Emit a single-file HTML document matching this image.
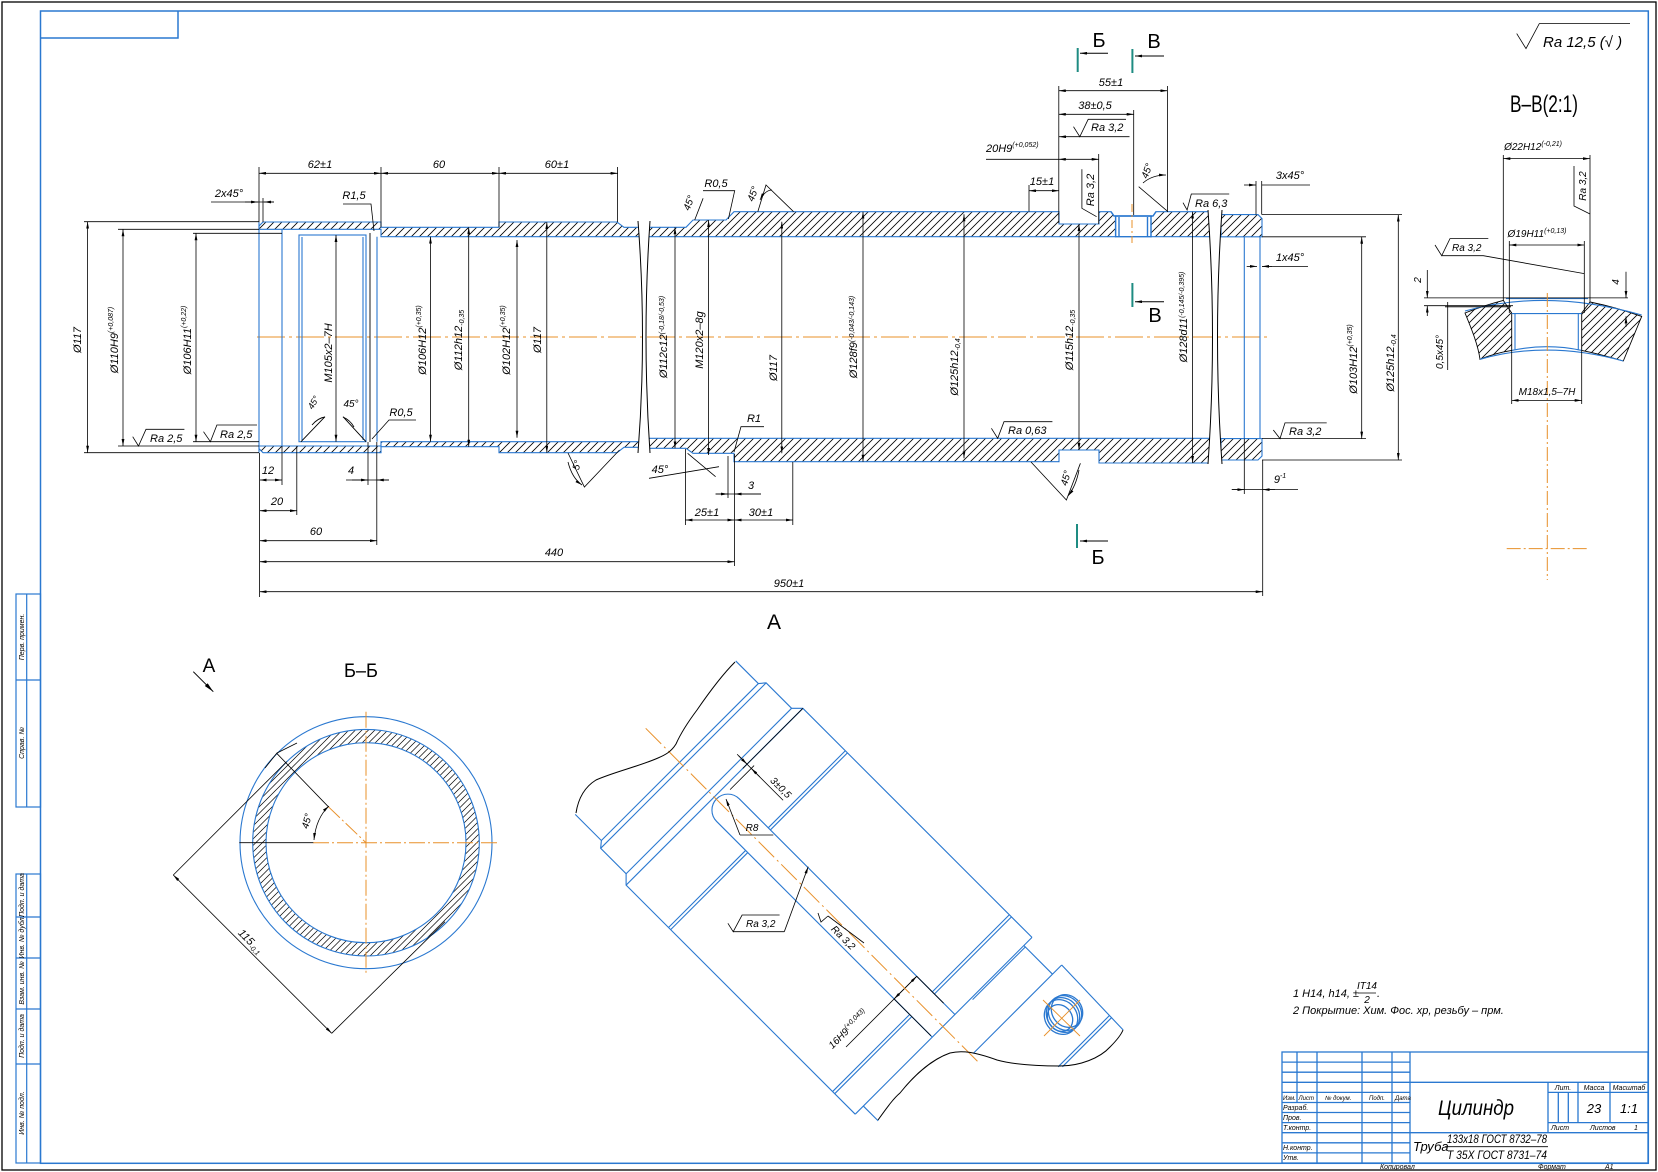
<!DOCTYPE html>
<html><head><meta charset="utf-8"><style>
html,body{margin:0;padding:0;background:#fff;}
svg{display:block}
text{font-family:"Liberation Sans","DejaVu Sans",sans-serif;font-style:italic;fill:#000;font-size:11px}
.u{font-style:normal}
</style></head><body>
<svg width="1658" height="1172" viewBox="0 0 1658 1172" xmlns="http://www.w3.org/2000/svg">
<defs>
<marker id="a" viewBox="0 0 10 4" refX="10" refY="2" markerWidth="7" markerHeight="2.8" markerUnits="userSpaceOnUse" orient="auto-start-reverse"><path d="M0,0L10,2L0,4z" fill="#000"/></marker>
<marker id="b" viewBox="0 0 10 4" refX="10" refY="2" markerWidth="11" markerHeight="4" markerUnits="userSpaceOnUse" orient="auto-start-reverse"><path d="M0,0L10,2L0,4z" fill="#000"/></marker>
<pattern id="h" width="8" height="8" patternUnits="userSpaceOnUse"><path d="M-1,1L1,-1M0,8L8,0M7,9L9,7" stroke="#000" stroke-width="0.8"/></pattern>
<pattern id="h2" width="6.5" height="6.5" patternUnits="userSpaceOnUse"><path d="M-1,1L1,-1M0,6.5L6.5,0M5.5,7.5L7.5,5.5" stroke="#000" stroke-width="0.7"/></pattern>
</defs>

<!-- FRAME -->
<rect x="2" y="2" width="1654" height="1168" fill="none" stroke="#000" stroke-width="1.3"/>
<rect x="40.5" y="11" width="1607.8" height="1152.3" fill="none" stroke="#2a78d0" stroke-width="1.5"/>
<path d="M40.5,38H178V11" stroke="#2a78d0" fill="none" stroke-width="1.5"/>

<!-- left stamp column -->
<g fill="none" stroke="#2a78d0" stroke-width="1.2">
<rect x="16" y="594" width="24.5" height="213"/>
<path d="M16,680H40.5 M26.7,594V807"/>
<rect x="16" y="874" width="24.5" height="289"/>
<path d="M16,917H40.5 M16,958H40.5 M16,1009H40.5 M16,1064H40.5 M26.7,874V1163"/>
</g>
<g>
<text transform="translate(24,637) rotate(-90)" text-anchor="middle" style="font-size:7px">Перв. примен.</text>
<text transform="translate(24,743) rotate(-90)" text-anchor="middle" style="font-size:7px">Справ. №</text>
<text transform="translate(24,895) rotate(-90)" text-anchor="middle" style="font-size:7px">Подп. и дата</text>
<text transform="translate(24,937) rotate(-90)" text-anchor="middle" style="font-size:7px">Инв. № дубл.</text>
<text transform="translate(24,983) rotate(-90)" text-anchor="middle" style="font-size:7px">Взам. инв. №</text>
<text transform="translate(24,1036) rotate(-90)" text-anchor="middle" style="font-size:7px">Подп. и дата</text>
<text transform="translate(24,1113) rotate(-90)" text-anchor="middle" style="font-size:7px">Инв. № подл.</text>
</g>

<!-- ===== MAIN VIEW ===== -->
<line x1="257" y1="337" x2="1267" y2="337" stroke="#e8902a" stroke-width="1" stroke-dasharray="28,4,3,4"/>

<g fill="url(#h)" stroke="#2a78d0" stroke-width="1.1">
<polygon points="259,226 263,222 381,222 381,227.3 499,227.3 499,222 617,222 624,227.3 640,227.3 640,236.7 381,236.7 381,229.3 259,229.3"/>
<polygon points="259,448.7 263,452.7 381,452.7 381,446.7 499,446.7 499,452.7 617,452.7 624,447.3 640,447.3 640,441.7 381,441.7 381,446 259,446"/>
<polygon points="648,227.3 686,227.3 693,220 726,220 734,211.7 1059,211.7 1059,224 1099,224 1099,211.7 1111,211.7 1114,216 1115.6,216 1115.6,236.7 648,236.7"/>
<polygon points="1151,216 1153,216 1156,211.7 1210,211.7 1210,236.7 1151,236.7"/>
<polygon points="648,438.3 1210,438.3 1210,463 1099,463 1099,450 1059,450 1059,461.7 734,461.7 734,453.3 693,453.3 686,448.3 648,448.3"/>
<polygon points="1221,214.6 1258,214.6 1262,218.6 1262,236.8 1221,236.8"/>
<polygon points="1221,438.6 1262,438.6 1262,456 1258,460 1221,460"/>
</g>
<!-- break curves -->
<g fill="#fff" stroke="none">
<path d="M638,221 Q647,337 638,453 L650,453 Q642,337 650,221 Z"/>
<path d="M1208,210 Q1217,337 1208,464 L1222,464 Q1213,337 1222,210 Z"/>
</g>
<g fill="none" stroke="#000" stroke-width="1">
<path d="M638,221 Q647,337 638,453 M650,221 Q642,337 650,453"/>
<path d="M1208,210 Q1217,337 1208,464 M1222,210 Q1213,337 1222,464"/>
</g>
<!-- interior lines -->
<g fill="none" stroke="#2a78d0" stroke-width="1.1">
<path d="M259,222V452.7 M282,229.3V446 M377,236.7V441.7 M1244.3,236.8V438.6 M1260,236.8V438.6"/>
<rect x="299" y="235" width="67" height="206.7"/>
<path d="M302,237V440 M363,237V440"/>
</g>
<!-- radial hole -->
<g fill="none" stroke="#2a78d0" stroke-width="1.4">
<path d="M1111,211.7L1114,216H1153L1156,211.7"/>
<rect x="1115.6" y="216" width="35.4" height="20.7"/>
<path d="M1119,217V236.7 M1147.5,217V236.7"/>
</g>
<g fill="none" stroke="#000" stroke-width="0.9">
<path d="M370,233V442 M301,441.7L325,416.7 M366,441.7L343,416.7"/>
<path d="M312,425 Q318,418 325,417 M343,417 Q350,420 354,427"/>
</g>
<line x1="1132" y1="204" x2="1132" y2="243" stroke="#e8902a" stroke-dasharray="8,3,2,3"/>

<!-- dimension & extension lines -->
<g fill="none" stroke="#000" stroke-width="0.8">
<path d="M84,221.7H259 M84,452.7H259 M118,229.3H259 M118,446H259 M193,233.3H282 M193,441.7H259"/>
<path d="M259,167V222 M381,167V227 M499,167V227 M617.6,167V222"/>
<line x1="259" y1="173.3" x2="381" y2="173.3" marker-start="url(#a)" marker-end="url(#a)"/>
<line x1="381" y1="173.3" x2="499" y2="173.3" marker-start="url(#a)" marker-end="url(#a)"/>
<line x1="499" y1="173.3" x2="617.6" y2="173.3" marker-start="url(#a)" marker-end="url(#a)"/>
<path d="M211,202H274"/>
<line x1="245" y1="202" x2="258" y2="202" marker-end="url(#a)"/>
<line x1="274" y1="202" x2="264" y2="202" marker-end="url(#a)"/>
<path d="M263,198V222"/>
<path d="M343,204H371L374,231"/>
<path d="M416,420H389L372,439"/>
<line x1="87.6" y1="221.7" x2="87.6" y2="452.7" marker-start="url(#a)" marker-end="url(#a)"/>
<line x1="123" y1="229.3" x2="123" y2="446" marker-start="url(#a)" marker-end="url(#a)"/>
<line x1="196" y1="233.3" x2="196" y2="441.7" marker-start="url(#a)" marker-end="url(#a)"/>
<line x1="336" y1="235" x2="336" y2="441.7" marker-start="url(#a)" marker-end="url(#a)"/>
<line x1="430.5" y1="236.7" x2="430.5" y2="441.7" marker-start="url(#a)" marker-end="url(#a)"/>
<line x1="468.7" y1="227.3" x2="468.7" y2="446.7" marker-start="url(#a)" marker-end="url(#a)"/>
<line x1="517" y1="240" x2="517" y2="437.7" marker-start="url(#a)" marker-end="url(#a)"/>
<line x1="546.8" y1="222" x2="546.8" y2="452.7" marker-start="url(#a)" marker-end="url(#a)"/>
<line x1="675" y1="227.3" x2="675" y2="448.3" marker-start="url(#a)" marker-end="url(#a)"/>
<line x1="708.6" y1="220" x2="708.6" y2="455" marker-start="url(#a)" marker-end="url(#a)"/>
<line x1="781.8" y1="221.7" x2="781.8" y2="453.3" marker-start="url(#a)" marker-end="url(#a)"/>
<line x1="863" y1="211.7" x2="863" y2="461.7" marker-start="url(#a)" marker-end="url(#a)"/>
<line x1="964" y1="214.3" x2="964" y2="458.3" marker-start="url(#a)" marker-end="url(#a)"/>
<line x1="1079" y1="224" x2="1079" y2="450" marker-start="url(#a)" marker-end="url(#a)"/>
<line x1="1192.6" y1="211.7" x2="1192.6" y2="463" marker-start="url(#a)" marker-end="url(#a)"/>
<path d="M1262,236.8H1366 M1262,438.6H1366 M1262,214.6H1402 M1262,460H1402"/>
<line x1="1361.7" y1="236.8" x2="1361.7" y2="438.6" marker-start="url(#a)" marker-end="url(#a)"/>
<line x1="1398.3" y1="214.6" x2="1398.3" y2="460" marker-start="url(#a)" marker-end="url(#a)"/>
<path d="M1256,181V214.6 M1261.7,181V214.6 M1262,185H1310"/>
<line x1="1244" y1="185" x2="1256" y2="185" marker-end="url(#a)"/>
<path d="M1262,266.4H1308"/>
<line x1="1246.7" y1="266.4" x2="1257" y2="266.4" marker-end="url(#a)"/>
<line x1="1272" y1="266.4" x2="1262" y2="266.4" marker-end="url(#a)"/>
<path d="M1244.3,438.6V494 M1262.7,460V596 M1231.7,489.6H1298"/>
<line x1="1232" y1="489.6" x2="1244.3" y2="489.6" marker-end="url(#a)"/>
<line x1="1275" y1="489.6" x2="1262.7" y2="489.6" marker-end="url(#a)"/>
<path d="M1058.8,86V223 M1167.4,86V211.7 M1133.7,110V215 M1098.7,154V224 M1029,185V211.7"/>
<line x1="1058.8" y1="90.7" x2="1167.4" y2="90.7" marker-start="url(#a)" marker-end="url(#a)"/>
<line x1="1058.8" y1="114.3" x2="1133.7" y2="114.3" marker-start="url(#a)" marker-end="url(#a)"/>
<path d="M986,159.3H1058.8"/>
<line x1="1058.8" y1="159.3" x2="1098.7" y2="159.3" marker-start="url(#a)" marker-end="url(#a)"/>
<line x1="1029" y1="190.7" x2="1058.8" y2="190.7" marker-start="url(#a)" marker-end="url(#a)"/>
<line x1="1129.5" y1="136.7" x2="1059" y2="136.7" marker-end="url(#a)"/>
<path d="M259.6,453V597 M282,446V485 M296.8,446V515 M368,442V485 M376.8,442V545 M685.4,449V525 M728,456V498 M734.5,454V566 M792.8,462V525"/>
<line x1="259.6" y1="480" x2="282" y2="480" marker-start="url(#a)" marker-end="url(#a)"/>
<line x1="259.6" y1="510.7" x2="296.8" y2="510.7" marker-start="url(#a)" marker-end="url(#a)"/>
<line x1="259.6" y1="540.7" x2="376.8" y2="540.7" marker-start="url(#a)" marker-end="url(#a)"/>
<line x1="259.6" y1="561.7" x2="734.5" y2="561.7" marker-start="url(#a)" marker-end="url(#a)"/>
<line x1="259.6" y1="591.7" x2="1262.7" y2="591.7" marker-start="url(#a)" marker-end="url(#a)"/>
<line x1="685.4" y1="520" x2="734.5" y2="520" marker-start="url(#a)" marker-end="url(#a)"/>
<line x1="734.5" y1="520" x2="792.8" y2="520" marker-start="url(#a)" marker-end="url(#a)"/>
<path d="M346,480H389 M715.6,494H761"/>
<line x1="352" y1="480" x2="368" y2="480" marker-end="url(#a)"/>
<line x1="389" y1="480" x2="376.8" y2="480" marker-end="url(#a)"/>
<line x1="715.6" y1="494" x2="728" y2="494" marker-end="url(#a)"/>
<line x1="761" y1="494" x2="734.5" y2="494" marker-end="url(#a)"/>
<path d="M568,453L584.4,487L619.5,450"/>
<path d="M568,462Q572,478 582,485" marker-end="url(#a)"/>
<path d="M687.6,453.3L715.6,476.7 M649,478.3L719,466.7"/>
<path d="M1031,462L1066.4,500L1080.4,463.3"/>
<path d="M1079,470Q1076,486 1068,496" marker-end="url(#a)"/>
<path d="M694.7,220L703.1,198.3 M757.8,211.7L766,185L793.6,211.7 M1138.7,186.7L1168,211.7"/>
<path d="M760,200Q765,190 772,190" marker-start="url(#a)"/>
<path d="M1143,183Q1152,175 1166,175" marker-end="url(#a)"/>
<path d="M703,190.7H734.7L728.4,219"/>
<path d="M764,426.7H741L734,452"/>
</g>

<!-- Ra symbols -->
<g fill="none" stroke="#000" stroke-width="0.8">
<polyline points="132.7,436.7 138.5,446 146,429.3 184.4,429.3"/>
<polyline points="203.5,431.7 210.4,441.7 216.9,425 257,425"/>
<polyline points="1073.5,126.7 1079.8,136.7 1088.2,119.3 1126,119.3"/>
<polyline points="1081.9,169.3 1081.9,208.3 1096.6,216.7"/>
<polyline points="1183,202.7 1187.1,210 1191.3,194 1229.2,194"/>
<polyline points="991.4,428.3 997.7,438.3 1004,421.7 1052.4,421.7"/>
<polyline points="1273.3,430 1280,438.6 1285,422.9 1326.7,422.9"/>
<polyline points="1516.7,33.6 1526,48.6 1539.3,23.6 1630,23.6"/>
<polyline points="1435,245 1441.7,255.7 1450,238.6 1488.3,238.6"/>
<polyline points="1441.7,255.7 1483.3,255.7 1584.3,273.6"/>
<polyline points="1574,166 1574,206 1590,214"/>
</g>

<!-- section markers -->
<g stroke="#1e8c82" stroke-width="2">
<path d="M1077.7,48V72 M1132.4,49V73 M1132.4,283V307 M1077,524V548"/>
</g>
<g stroke="#000" stroke-width="1">
<line x1="1108" y1="53.3" x2="1080" y2="53.3" marker-end="url(#a)"/>
<line x1="1164" y1="56" x2="1135" y2="56" marker-end="url(#a)"/>
<line x1="1164" y1="301.7" x2="1135" y2="301.7" marker-end="url(#a)"/>
<line x1="1108" y1="541" x2="1080" y2="541" marker-end="url(#a)"/>
</g>
<g>
<text x="1099" y="47" text-anchor="middle" style="font-size:20px;font-style:normal">Б</text>
<text x="1154" y="48" text-anchor="middle" style="font-size:20px;font-style:normal">В</text>
<text x="1155" y="322" text-anchor="middle" style="font-size:20px;font-style:normal">В</text>
<text x="1098" y="564" text-anchor="middle" style="font-size:20px;font-style:normal">Б</text>
<text x="774" y="629" text-anchor="middle" style="font-size:21px;font-style:normal">A</text>
<text x="1544" y="112" text-anchor="middle" textLength="68" lengthAdjust="spacingAndGlyphs" style="font-size:24px;font-style:normal">В–В(2:1)</text>
</g>

<!-- main view texts -->
<g>
<text x="320" y="168" text-anchor="middle">62±1</text>
<text x="439" y="168" text-anchor="middle">60</text>
<text x="557" y="168" text-anchor="middle">60±1</text>
<text x="229" y="197" text-anchor="middle">2x45°</text>
<text x="354" y="199" text-anchor="middle">R1,5</text>
<text x="401" y="416" text-anchor="middle">R0,5</text>
<text x="150" y="442">Ra 2,5</text>
<text x="220" y="438">Ra 2,5</text>
<text transform="translate(81,340) rotate(-90)" text-anchor="middle">Ø117</text>
<text transform="translate(118,340) rotate(-90)" text-anchor="middle">Ø110H9<tspan style="font-size:7px" dy="-5">(+0,087)</tspan></text>
<text transform="translate(191,340) rotate(-90)" text-anchor="middle">Ø106H11<tspan style="font-size:7px" dy="-5">(+0,22)</tspan></text>
<text transform="translate(332,353) rotate(-90)" text-anchor="middle">M105x2–7H</text>
<text transform="translate(426,340) rotate(-90)" text-anchor="middle">Ø106H12<tspan style="font-size:7px" dy="-5">(+0,35)</tspan></text>
<text transform="translate(462,340) rotate(-90)" text-anchor="middle">Ø112h12<tspan style="font-size:7px" dy="2">-0,35</tspan></text>
<text transform="translate(510,340) rotate(-90)" text-anchor="middle">Ø102H12<tspan style="font-size:7px" dy="-5">(+0,35)</tspan></text>
<text transform="translate(541,340) rotate(-90)" text-anchor="middle">Ø117</text>
<text transform="translate(667,337) rotate(-90)" text-anchor="middle">Ø112c12<tspan style="font-size:7px" dy="-3">(-0,18/-0,53)</tspan></text>
<text transform="translate(703,340) rotate(-90)" text-anchor="middle">M120x2–8g</text>
<text transform="translate(777,368) rotate(-90)" text-anchor="middle">Ø117</text>
<text transform="translate(857,337) rotate(-90)" text-anchor="middle">Ø128f9<tspan style="font-size:7px" dy="-3">(-0,043/-0,143)</tspan></text>
<text transform="translate(958,367) rotate(-90)" text-anchor="middle">Ø125h12<tspan style="font-size:7px" dy="2">-0,4</tspan></text>
<text transform="translate(1073,340) rotate(-90)" text-anchor="middle">Ø115h12<tspan style="font-size:7px" dy="2">-0,35</tspan></text>
<text transform="translate(1187,317) rotate(-90)" text-anchor="middle">Ø128d11<tspan style="font-size:7px" dy="-3">(-0,145/-0,395)</tspan></text>
<text transform="translate(1357,359) rotate(-90)" text-anchor="middle">Ø103H12<tspan style="font-size:7px" dy="-5">(+0,35)</tspan></text>
<text transform="translate(1394,363) rotate(-90)" text-anchor="middle">Ø125h12<tspan style="font-size:7px" dy="2">-0,4</tspan></text>
<text transform="translate(316,404) rotate(-60)" text-anchor="middle" style="font-size:9px">45°</text>
<text x="351" y="407" text-anchor="middle" style="font-size:10px">45°</text>
<text x="716" y="187" text-anchor="middle">R0,5</text>
<text transform="translate(692,204) rotate(-70)" text-anchor="middle" style="font-size:10px">45°</text>
<text transform="translate(756,195) rotate(-70)" text-anchor="middle" style="font-size:10px">45°</text>
<text transform="translate(1150,172) rotate(-70)" text-anchor="middle" style="font-size:10px">45°</text>
<text x="754" y="422" text-anchor="middle">R1</text>
<text x="1008" y="434">Ra 0,63</text>
<text x="1111" y="86" text-anchor="middle">55±1</text>
<text x="1095" y="109" text-anchor="middle">38±0,5</text>
<text x="1091" y="131">Ra 3,2</text>
<text x="986" y="152">20H9<tspan style="font-size:7px" dy="-5">(+0,052)</tspan></text>
<text x="1042" y="185" text-anchor="middle">15±1</text>
<text transform="translate(1094,190) rotate(-90)" text-anchor="middle">Ra 3,2</text>
<text x="1195" y="207">Ra 6,3</text>
<text x="1290" y="179" text-anchor="middle">3x45°</text>
<text x="1290" y="261" text-anchor="middle">1x45°</text>
<text x="1289" y="435">Ra 3,2</text>
<text x="1280" y="483" text-anchor="middle">9<tspan style="font-size:7px" dy="-5">-1</tspan></text>
<text x="268" y="474" text-anchor="middle">12</text>
<text x="277" y="505" text-anchor="middle">20</text>
<text x="316" y="535" text-anchor="middle">60</text>
<text x="351" y="474" text-anchor="middle">4</text>
<text x="554" y="556" text-anchor="middle">440</text>
<text x="789" y="587" text-anchor="middle">950±1</text>
<text x="707" y="516" text-anchor="middle">25±1</text>
<text x="761" y="516" text-anchor="middle">30±1</text>
<text x="751" y="489" text-anchor="middle">3</text>
<text x="660" y="473" text-anchor="middle">45°</text>
<text transform="translate(580,466) rotate(-75)" text-anchor="middle" style="font-size:10px">5°</text>
<text transform="translate(1069,479) rotate(-75)" text-anchor="middle" style="font-size:10px">45°</text>
</g>

<!-- ===== В-В detail ===== -->
<text x="1543" y="47" style="font-size:15px">Ra 12,5 (√ )</text>
<g fill="url(#h)" stroke="#000" stroke-width="0.9">
<path d="M1465,313 Q1485,305 1503.3,300.4 L1511.7,313 L1511.7,350.4 Q1495,353 1480,359.3 C1478,345 1472,330 1465,313 Z"/>
<path d="M1590,302 Q1615,307 1641.7,316.4 C1636,330 1630,345 1623.3,361 Q1600,354 1581.7,350.4 L1581.7,313 Z"/>
</g>
<g fill="none" stroke="#2a78d0" stroke-width="1.1">
<path d="M1465,311 Q1547,288 1641.7,315"/>
<path d="M1506,298.6H1588 M1511.7,313.6H1581.7 M1515,313.6V350.4 M1578.3,313.6V350.4 M1511.7,350.4Q1547,343 1581.7,350.4 M1480,359.3Q1547,340 1623.3,361"/>
</g>
<g fill="none" stroke="#000" stroke-width="0.8">
<path d="M1503.3,155V300.4 M1590,155V302 M1509.3,241V313 M1584.3,241V313"/>
<line x1="1503.3" y1="158.6" x2="1590" y2="158.6" marker-start="url(#a)" marker-end="url(#a)"/>
<line x1="1509.3" y1="245" x2="1584.3" y2="245" marker-start="url(#a)" marker-end="url(#a)"/>
<path d="M1424,297.9H1628 M1424,305.7H1513 M1445,306.8H1511 M1447.7,302V370"/>
<line x1="1427.3" y1="270" x2="1427.3" y2="297.9" marker-end="url(#a)"/>
<line x1="1427.3" y1="316" x2="1427.3" y2="305.7" marker-end="url(#a)"/>
<line x1="1626" y1="271.8" x2="1626" y2="297.9" marker-end="url(#a)"/>
<line x1="1626" y1="327" x2="1626" y2="316.4" marker-end="url(#a)"/>
<path d="M1511.7,350V404 M1581.7,350V404"/>
<line x1="1511.7" y1="400.4" x2="1581.7" y2="400.4" marker-start="url(#a)" marker-end="url(#a)"/>
</g>
<g stroke="#e8902a" stroke-width="1" stroke-dasharray="14,3,2,3">
<path d="M1547.3,293V580 M1506.7,548.6H1586.7"/>
</g>
<text x="1533" y="150" text-anchor="middle" style="font-size:10px">Ø22H12<tspan style="font-size:7px" dy="-4">(-0,21)</tspan></text>
<text x="1537" y="237" text-anchor="middle" style="font-size:10px">Ø19H11<tspan style="font-size:7px" dy="-4">(+0,13)</tspan></text>
<text x="1452" y="251" style="font-size:10px">Ra 3,2</text>
<text transform="translate(1586,186) rotate(-90)" text-anchor="middle" style="font-size:10px">Ra 3,2</text>
<text transform="translate(1421,280) rotate(-90)" text-anchor="middle" style="font-size:10px">2</text>
<text transform="translate(1619,282) rotate(-90)" text-anchor="middle" style="font-size:10px">4</text>
<text transform="translate(1443,352) rotate(-90)" text-anchor="middle" style="font-size:10px">0,5x45°</text>
<text x="1547" y="395" text-anchor="middle" style="font-size:10px">M18x1,5–7H</text>

<!-- ===== Б-Б section ===== -->
<text x="209" y="672" text-anchor="middle" style="font-size:19px;font-style:normal">A</text>
<line x1="193.3" y1="671.7" x2="213.3" y2="691.7" stroke="#000" stroke-width="1" marker-end="url(#b)"/>
<text x="361" y="677" text-anchor="middle" textLength="34" lengthAdjust="spacingAndGlyphs" style="font-size:19px;font-style:normal">Б–Б</text>
<circle cx="366" cy="842.7" r="126" fill="none" stroke="#2a78d0" stroke-width="1.1"/>
<path d="M252.7,842.7a113.3,113.3 0 1,0 226.6,0a113.3,113.3 0 1,0 -226.6,0Z M266,842.7a100,100 0 1,0 200,0a100,100 0 1,0 -200,0Z" fill="url(#h2)" fill-rule="evenodd" stroke="#2a78d0" stroke-width="1.1"/>
<g stroke="#e8902a" stroke-width="1" stroke-dasharray="16,3,2,3" fill="none">
<path d="M313,842.7H497 M366,711.7V973.3 M328.3,806.7L366,842.7"/>
</g>
<g fill="none" stroke="#000" stroke-width="0.8">
<path d="M239.3,842.7H313.3 M276.7,753.3L328.3,806.7 M173.3,875L286.7,761.7 M331.7,1033.3L445,921.7"/>
<line x1="173.3" y1="875" x2="331.7" y2="1033.3" marker-start="url(#a)" marker-end="url(#a)"/>
<path d="M314,840Q316,818 329,806" marker-start="url(#a)" marker-end="url(#a)"/>
<path d="M265,768L277,753L297,743"/>
</g>
<text transform="translate(310,822) rotate(-75)" text-anchor="middle" style="font-size:10px">45°</text>
<text transform="translate(248,944) rotate(45)" text-anchor="middle">115<tspan style="font-size:7px" dy="2">-0,1</tspan></text>

<!-- ===== View A (isometric) ===== -->
<g transform="translate(714.5,796.7) rotate(45)" fill="none" stroke="#2a78d0" stroke-width="1.1">
<path d="M-81,-111H-49L-44,-117H-8L0,-125H324 M324,-113.5H364.5 M364.5,-126.5L454,-124"/>
<path d="M-86,111H-49L-44,117H-8L0,125H324 M324,113.5H345"/>
<path d="M-49,-111V111 M-44,-117V117 M-8,-117V117 M0,-125V125 M60,-125V-16 M60,16V125 M63,-125V-16 M63,16V125 M292,-125V-16 M292,16V125 M295,-125V-16 M295,16V125 M324,-125V125 M326,-113.5V-39 M364.5,-126.5V-1.5 M434,-125V-52 M437,-125V-55"/>
<path d="M324,-16H19A16,16 0 0 0 19,16H324"/>
<g stroke="#000" stroke-width="0.8">
<path d="M0,-125V-40 M-14,-46H51 M270,-16H308 M270,16H322 M270,-16V84"/>
<line x1="-12" y1="-46" x2="0" y2="-46" marker-end="url(#a)"/>
<line x1="18" y1="-46" x2="6" y2="-46" marker-end="url(#a)"/>
<path d="M6,-50V-16"/>
<line x1="270" y1="0" x2="270" y2="-16" marker-end="url(#a)"/>
<line x1="270" y1="0" x2="270" y2="16" marker-end="url(#a)"/>
</g>
<text x="28" y="-50" style="font-size:10px;stroke:none;fill:#000">3±0,5</text>
<text x="176" y="12" style="font-size:10px;stroke:none;fill:#000">Ra 3,2</text>
<text transform="translate(262,70) rotate(-90)" text-anchor="middle" style="font-size:10px;stroke:none;fill:#000">16H9<tspan style="font-size:7px" dy="-4">(+0,043)</tspan></text>
</g>
<line x1="645.7" y1="728.3" x2="977.9" y2="1061.7" stroke="#e8902a" stroke-width="1" stroke-dasharray="22,4,2,4"/>
<g fill="none" stroke="#000" stroke-width="1">
<path d="M735,662C722,675 708,694 697,710C688,722 680,735 676,744C671,752 665,755 658,758C640,766 614,772 596,780C583,788 578,800 576,813"/>
<path d="M878,1120C888,1106 894,1098 900,1093C912,1078 930,1060 950,1053C962,1050 975,1052 997,1060C1015,1065 1040,1066 1060,1066C1080,1066 1100,1058 1110,1047C1117,1040 1121,1035 1123,1030"/>
</g>
<g fill="none" stroke="#000" stroke-width="0.8">
<polyline points="727.9,923.3 733.2,931.7 742.1,915 779.6,915"/>
<polyline points="733.2,931.7 784.3,931.7"/>
<line x1="784.3" y1="931.7" x2="808.2" y2="866.7" marker-end="url(#a)"/>
<polyline points="818,913 821,922 828,916"/>
<line x1="828" y1="916" x2="864" y2="943"/>
<line x1="773.3" y1="835" x2="740" y2="835"/>
<line x1="740" y1="835" x2="726" y2="799" marker-end="url(#a)"/>
</g>
<text x="746" y="927" style="font-size:10px">Ra 3,2</text>
<text x="752" y="831" text-anchor="middle" style="font-size:10px">R8</text>
<g fill="none" stroke="#2a78d0" stroke-width="1.3">
<ellipse cx="1061" cy="1017" rx="16" ry="18" transform="rotate(-35 1061 1017)"/>
<ellipse cx="1063" cy="1015" rx="16" ry="18" transform="rotate(-35 1063 1015)"/>
<ellipse cx="1065" cy="1013" rx="16" ry="18" transform="rotate(-35 1065 1013)"/>
<ellipse cx="1067" cy="1011" rx="15" ry="17" transform="rotate(-35 1067 1011)"/>
<ellipse cx="1060" cy="1018" rx="12" ry="14" transform="rotate(-35 1060 1018)"/>
</g>
<path d="M1043,1000L1080,1036 M1044,1036L1080,1000" stroke="#e8902a" stroke-width="0.9"/>

<!-- ===== Notes ===== -->
<text x="1293" y="997">1  H14, h14, ±</text>
<text x="1367" y="989" text-anchor="middle" style="font-size:10px">IT14</text>
<line x1="1358" y1="993" x2="1376" y2="993" stroke="#000" stroke-width="0.8"/>
<text x="1367" y="1003" text-anchor="middle" style="font-size:10px">2</text>
<text x="1377" y="997">.</text>
<text x="1293" y="1014">2  Покрытие: Хим. Фос. хр, резьбу – прм.</text>

<!-- ===== Title block ===== -->
<g fill="none" stroke="#2a78d0" stroke-width="1.3">
<rect x="1282" y="1052" width="366" height="111"/>
<path d="M1282,1062.1H1410 M1282,1072.2H1410 M1282,1082.3H1648 M1282,1092.4H1410 M1282,1102.5H1410 M1282,1112.5H1410 M1282,1122.6H1410 M1282,1132.7H1648 M1282,1142.8H1410 M1282,1152.9H1410"/>
<path d="M1297,1052V1102.5 M1317,1052V1163 M1362,1052V1163 M1392,1052V1163 M1410,1052V1163"/>
<path d="M1548,1082.3V1132.7 M1578,1082.3V1122.6 M1610,1082.3V1122.6 M1548,1092.4H1648 M1548,1122.6H1648 M1558.3,1092.4V1122.6 M1568.3,1092.4V1122.6"/>
</g>
<g>
<text x="1283" y="1100" style="font-size:6px">Изм.</text>
<text x="1298.5" y="1100" style="font-size:6px">Лист</text>
<text x="1325" y="1100" style="font-size:6px">№ докум.</text>
<text x="1369" y="1100" style="font-size:6px">Подп.</text>
<text x="1395" y="1100" style="font-size:6px">Дата</text>
<text x="1283" y="1110" style="font-size:7px">Разраб.</text>
<text x="1283" y="1120" style="font-size:7px">Пров.</text>
<text x="1283" y="1130" style="font-size:7px">Т.контр.</text>
<text x="1283" y="1150" style="font-size:7px">Н.контр.</text>
<text x="1283" y="1160" style="font-size:7px">Утв.</text>
<text x="1563" y="1090" text-anchor="middle" style="font-size:7px">Лит.</text>
<text x="1594" y="1090" text-anchor="middle" style="font-size:7px">Масса</text>
<text x="1629" y="1090" text-anchor="middle" style="font-size:7px">Масштаб</text>
<text x="1551" y="1130" style="font-size:7px">Лист</text>
<text x="1590" y="1130" style="font-size:7px">Листов</text>
<text x="1634" y="1130" style="font-size:7px">1</text>
<text x="1380" y="1169" style="font-size:7px">Копировал</text>
<text x="1538" y="1169" style="font-size:7px">Формат</text>
<text x="1605" y="1169" style="font-size:7px">A1</text>
</g>
<text x="1476" y="1115" text-anchor="middle" textLength="76" lengthAdjust="spacingAndGlyphs" style="font-size:21px">Цилиндр</text>
<text x="1594" y="1113" text-anchor="middle" style="font-size:13px">23</text>
<text x="1629" y="1113" text-anchor="middle" style="font-size:13px">1:1</text>
<text x="1413" y="1151" style="font-size:13px">Труба</text>
<text x="1497" y="1143" text-anchor="middle" textLength="100" lengthAdjust="spacingAndGlyphs" style="font-size:12px">133x18 ГОСТ 8732–78</text>
<line x1="1445" y1="1146.7" x2="1548" y2="1146.7" stroke="#000" stroke-width="0.9"/>
<text x="1497" y="1159" text-anchor="middle" textLength="100" lengthAdjust="spacingAndGlyphs" style="font-size:12px">Т 35Х ГОСТ 8731–74</text>
</svg>
</body></html>
